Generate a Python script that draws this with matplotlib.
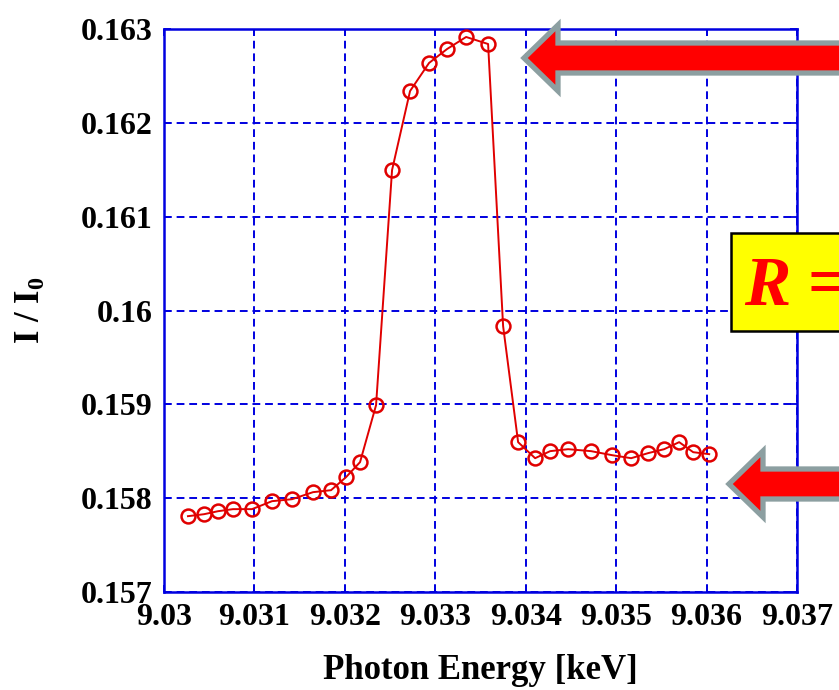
import numpy as np
import matplotlib
matplotlib.use('Agg')
import matplotlib.pyplot as plt
from matplotlib.patches import Polygon, Rectangle
from matplotlib.ticker import FormatStrFormatter, MultipleLocator

plt.rcParams['font.family'] = ['Liberation Serif', 'DejaVu Serif']
plt.rcParams['font.weight'] = 'bold'
plt.rcParams['mathtext.fontset'] = 'custom'
plt.rcParams['mathtext.rm'] = 'Liberation Serif:bold'
plt.rcParams['mathtext.bf'] = 'Liberation Serif:bold'
plt.rcParams['mathtext.it'] = 'Liberation Serif:bold:italic'

# photon energy (keV) and normalised intensity
energy = [9.030265, 9.030442, 9.030597, 9.030763, 9.030973, 9.031195, 9.031416,
          9.031648, 9.031847, 9.032013, 9.032168, 9.032345, 9.032522, 9.032721,
          9.032931, 9.033131, 9.033341, 9.033584, 9.033750, 9.033916, 9.034104,
          9.034270, 9.034469, 9.034723, 9.034956, 9.035166, 9.035354, 9.035531,
          9.035697, 9.035852, 9.036029]
intensity = [0.157808, 0.157829, 0.157861, 0.157883, 0.157883, 0.157968, 0.157989,
             0.158064, 0.158085, 0.158224, 0.158384, 0.158991, 0.161497, 0.162339,
             0.162638, 0.162787, 0.162915, 0.162840, 0.159834, 0.158597, 0.158426,
             0.158501, 0.158522, 0.158501, 0.158458, 0.158426, 0.158480, 0.158522,
             0.158597, 0.158490, 0.158469]

W, H = 839, 690
fig = plt.figure(figsize=(W / 100, H / 100), dpi=100)
ax = fig.add_axes([164 / W, 1 - 592 / H, (797 - 164) / W, (592 - 29) / H])

blue = '#0000e0'
ax.plot(energy, intensity, color='#e00000', linewidth=1.4, marker='o',
        markersize=10, markerfacecolor='none', markeredgecolor='#e00000',
        markeredgewidth=1.8, zorder=3)

ax.set_xlim(9.03, 9.037)
ax.set_ylim(0.157, 0.163)
ax.xaxis.set_major_locator(MultipleLocator(0.001))
ax.yaxis.set_major_locator(MultipleLocator(0.001))
ax.xaxis.set_major_formatter(FormatStrFormatter('%g'))
ax.yaxis.set_major_formatter(FormatStrFormatter('%g'))
ax.grid(True, color=blue, linestyle=(0, (4, 2.5)), linewidth=1.4)
for sp in ax.spines.values():
    sp.set_color(blue)
    sp.set_linewidth(1.8)
ax.tick_params(direction='in', length=5, width=1.3, color=blue,
               top=True, right=True, labelsize=23, pad=8)
for lab in ax.get_xticklabels() + ax.get_yticklabels():
    lab.set_fontweight('bold')

ax.set_xlabel('Photon Energy [keV]', fontsize=25, fontweight='bold', labelpad=16)
ax.set_ylabel(r'I / I$_\mathrm{0}$', fontsize=25, fontweight='bold', labelpad=24)

# overlay in pixel coordinates for the annotation arrows / box
ov = fig.add_axes([0, 0, 1, 1], zorder=5)
ov.set_xlim(0, W)
ov.set_ylim(H, 0)
ov.axis('off')

grey = '#8c9fa1'

def left_arrow(tip_x, tip_y):
    hb = tip_x + 34
    pts = [(tip_x, tip_y), (hb, tip_y - 33), (hb, tip_y - 15), (W + 20, tip_y - 15),
           (W + 20, tip_y + 15), (hb, tip_y + 15), (hb, tip_y + 33)]
    ov.add_patch(Polygon(pts, closed=True, facecolor='#ff0000', edgecolor=grey,
                         linewidth=3.8, joinstyle='miter'))

left_arrow(524, 58)
left_arrow(729, 484)

ov.add_patch(Rectangle((731, 233), 130, 98, facecolor='#ffff00',
                       edgecolor='black', linewidth=1.8))
ov.text(744, 305, r'$\mathit{R}$ =', color='#ff0000', fontsize=50,
        fontweight='bold', ha='left', va='baseline')

fig.savefig('out.png', dpi=100)
